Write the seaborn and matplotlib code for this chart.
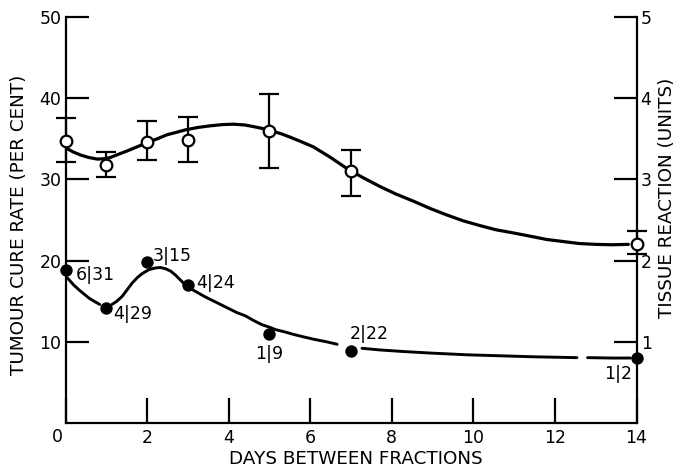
import numpy as np
import pandas as pd
import matplotlib
matplotlib.use("Agg")
import matplotlib.pyplot as plt
import seaborn as sns

# Measured points
days = [0, 1, 2, 3, 5, 7, 14]
cure_rate = [18.8, 14.2, 19.8, 17.0, 11.0, 8.9, 8.0]
cure_labels = ["6|31", "4|29", "3|15", "4|24", "1|9", "2|22", "1|2"]
tissue = [3.47, 3.18, 3.46, 3.49, 3.59, 3.10, 2.21]
tissue_hi = [3.76, 3.34, 3.72, 3.77, 4.05, 3.36, 2.37]
tissue_lo = [3.21, 3.03, 3.24, 3.22, 3.14, 2.79, 2.08]

# Hand-drawn fitted curves
tissue_curve_x = [0.0, 0.18, 0.37, 0.57, 0.78, 0.95, 1.1, 1.3, 1.51, 1.75, 1.99, 2.25,
                  2.49, 2.72, 2.94, 3.25, 3.55, 3.85, 4.12, 4.4, 4.61, 4.85, 5.1, 5.3,
                  5.51, 5.8, 6.08, 6.5, 6.94, 7.3, 7.72, 8.1, 8.54, 8.95, 9.36, 9.75,
                  10.17, 10.55, 10.99, 11.4, 11.8, 12.2, 12.6, 13.0, 13.4, 13.8]
tissue_curve_y = [3.39, 3.34, 3.30, 3.27, 3.25, 3.255, 3.27, 3.31, 3.35, 3.40, 3.45, 3.50,
                  3.55, 3.58, 3.61, 3.64, 3.66, 3.675, 3.68, 3.67, 3.65, 3.625, 3.59, 3.56,
                  3.52, 3.46, 3.40, 3.27, 3.12, 3.02, 2.91, 2.82, 2.73, 2.64, 2.56, 2.49,
                  2.43, 2.38, 2.34, 2.30, 2.26, 2.235, 2.21, 2.20, 2.195, 2.20]

cure_curve_seg = ([1] * 7 + [2] * 33 + [3] * 8 + [4] * 3)
cure_curve_x = [0.04, 0.2, 0.33, 0.45, 0.57, 0.7, 0.84,
                1.14, 1.26, 1.39, 1.51, 1.63, 1.76, 1.88, 2.05, 2.21, 2.33, 2.45, 2.58,
                2.7, 2.8, 2.9, 3.05, 3.19, 3.4, 3.6, 3.8, 4.0, 4.2, 4.41, 4.62, 4.82,
                5.0, 5.15, 5.39, 5.6, 5.84, 6.1, 6.4, 6.66,
                7.27, 7.7, 8.29, 9.0, 9.84, 10.5, 11.5, 12.54,
                12.8, 13.4, 13.85]
cure_curve_y = [17.9, 17.0, 16.4, 15.9, 15.4, 15.0, 14.6,
                14.6, 15.0, 15.6, 16.4, 17.2, 17.9, 18.4, 18.9, 19.1, 19.15, 19.0, 18.7,
                18.2, 17.7, 17.2, 16.6, 16.2, 15.6, 15.1, 14.6, 14.1, 13.6, 13.2, 12.6, 12.1,
                11.8, 11.5, 11.2, 10.9, 10.6, 10.3, 10.0, 9.7,
                9.2, 9.0, 8.8, 8.6, 8.4, 8.3, 8.15, 8.05,
                8.05, 8.0, 8.0]

x_ticks = [0, 2, 4, 6, 8, 10, 12, 14]

# label offsets in pixels (dx, dy, ha)
label_offsets = [(10, -5, "left"), (7, -6, "left"), (6, 6, "left"), (8, 2, "left"),
                 (0, -20, "center"), (-1, 17, "left"), (-4, -16, "right")]

sns.set_style("ticks")
plt.rcParams["font.family"] = ["DejaVu Sans"]
for key in ["text.color", "xtick.color", "ytick.color", "axes.edgecolor", "axes.labelcolor"]:
    plt.rcParams[key] = "black"
fs = 12.5
lab_fs = 13.2

fig = plt.figure(figsize=(6.78, 4.67), dpi=100)
ax = fig.add_axes([65.5 / 678, 44 / 467, 571 / 678, 406 / 467])
ax2 = ax.twinx()

# tumour cure rate (left axis)
curve_df = pd.DataFrame({"x": cure_curve_x, "y": cure_curve_y, "seg": cure_curve_seg})
sns.lineplot(data=curve_df, x="x", y="y", units="seg", estimator=None, sort=False,
             color="black", linewidth=2.1, ax=ax, legend=False)
sns.scatterplot(x=days, y=cure_rate, color="black", s=80, edgecolor="black",
                linewidth=0, zorder=5, clip_on=False, ax=ax)
for d, c, lab, (dx, dy, ha) in zip(days, cure_rate, cure_labels, label_offsets):
    ax.annotate(lab, (d, c), xytext=(dx, dy), textcoords="offset pixels",
                ha=ha, va="center", fontsize=fs)

# tissue reaction (right axis)
yerr = [np.array(tissue) - np.array(tissue_lo), np.array(tissue_hi) - np.array(tissue)]
ax2.errorbar(days, tissue, yerr=yerr, fmt="none", ecolor="black", elinewidth=1.6,
             capsize=7, capthick=1.6, clip_on=False, zorder=2)
sns.lineplot(x=tissue_curve_x, y=tissue_curve_y, sort=False, color="black",
             linewidth=2.3, ax=ax2, zorder=3)
sns.scatterplot(x=days, y=tissue, color="white", s=70, edgecolor="black",
                linewidth=1.6, zorder=6, clip_on=False, ax=ax2)

# axes styling
ax.set_xlim(0, 14)
ax.set_ylim(0, 50)
ax2.set_ylim(0, 5)
ax.set_xticks(x_ticks)
ax.set_xticklabels([""] + [str(t) for t in x_ticks[1:]])
ax.annotate(str(x_ticks[0]), (0, 0), xytext=(-8, -14), textcoords="offset pixels",
            ha="center", va="center", fontsize=fs, annotation_clip=False)
ax.set_yticks([10, 20, 30, 40, 50])
ax2.set_yticks([1, 2, 3, 4, 5])
ax.set_xlabel("")
ax.set_ylabel("")
ax2.set_ylabel("")

for a in (ax, ax2):
    a.spines["top"].set_visible(False)
    for s in a.spines.values():
        s.set_linewidth(1.6)
ax.spines["right"].set_visible(False)
ax2.spines["left"].set_visible(False)
ax2.spines["bottom"].set_visible(False)

ax.tick_params(axis="x", direction="in", length=18, width=1.6, pad=4, labelsize=fs)
ax.tick_params(axis="y", direction="in", length=16.5, width=1.6, pad=3, labelsize=fs)
ax2.tick_params(axis="y", direction="in", length=16.5, width=1.6, pad=3, labelsize=fs)

fig.text(19 / 678, 1 - 225 / 467, "TUMOUR CURE RATE (PER CENT)", rotation=90,
         ha="center", va="center", fontsize=lab_fs)
fig.text(667 / 678, 1 - 198 / 467, "TISSUE REACTION (UNITS)", rotation=90,
         ha="center", va="center", fontsize=lab_fs)
fig.text(356 / 678, 1 - 459 / 467, "DAYS BETWEEN FRACTIONS",
         ha="center", va="center", fontsize=lab_fs)

fig.savefig("out.png", dpi=100)
